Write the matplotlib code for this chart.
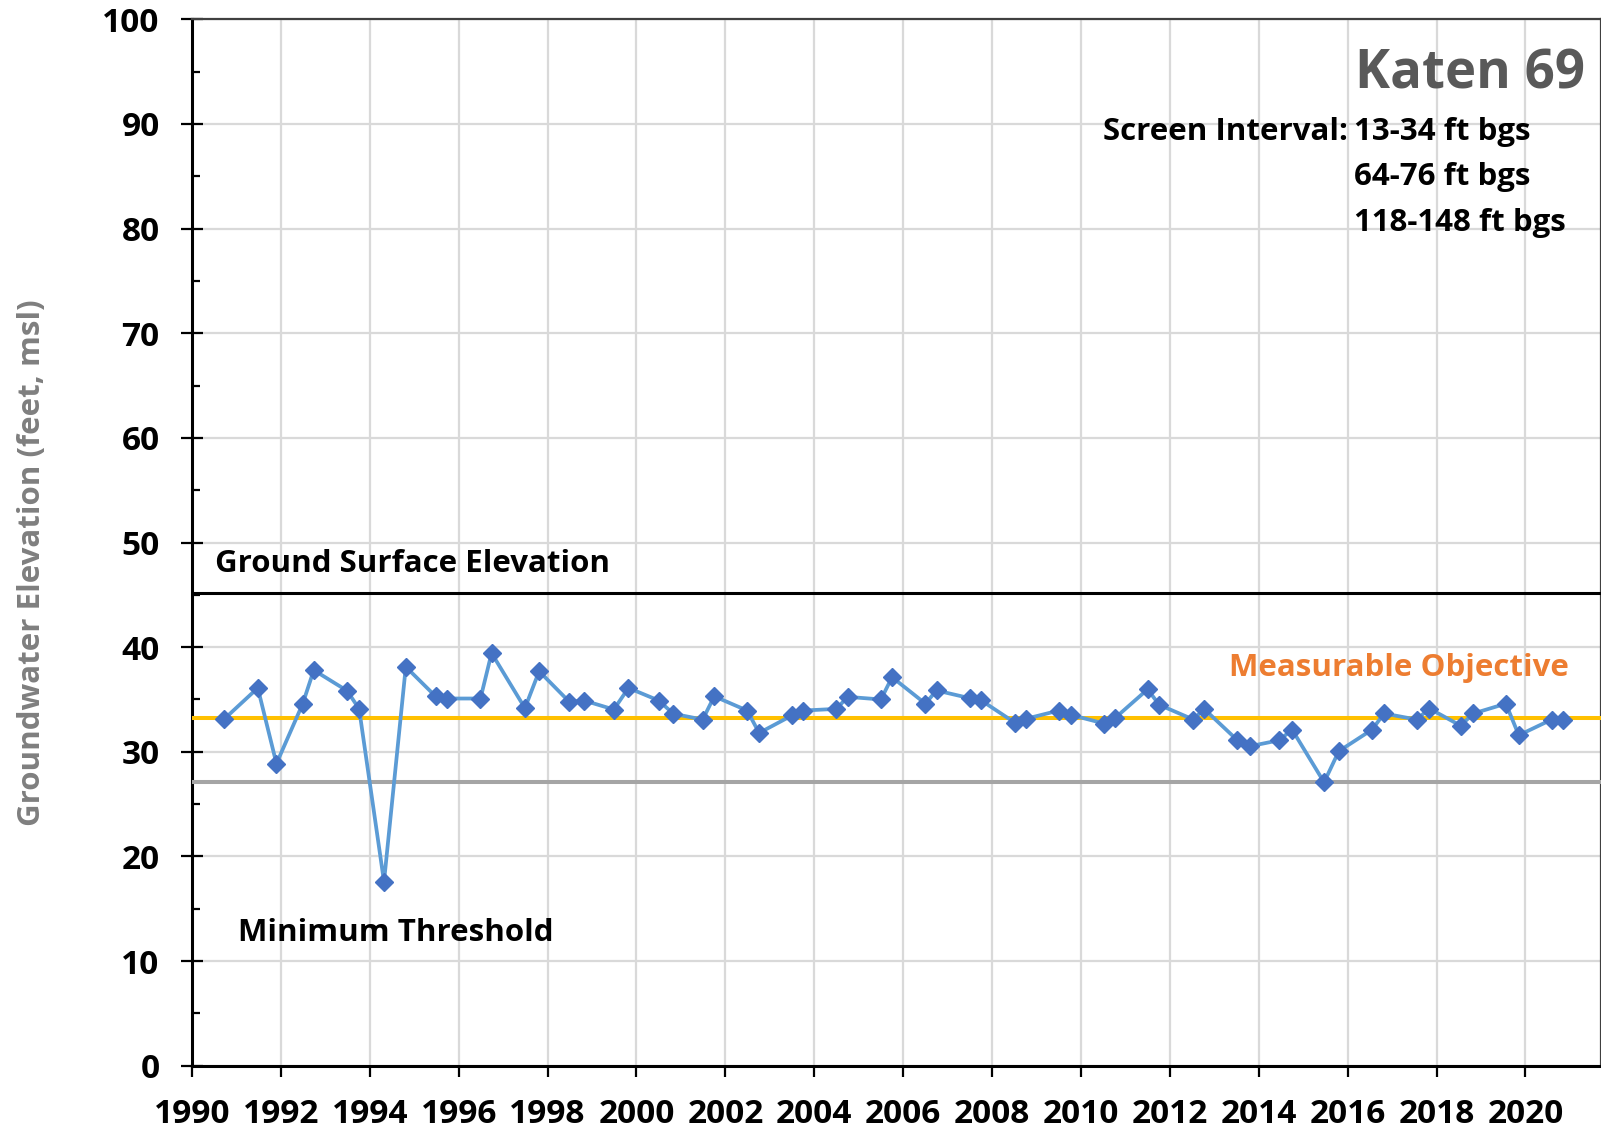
import matplotlib.pyplot as plt
import numpy as np

# measurement dates (decimal year) and groundwater elevations (ft msl)
years = [1990.73, 1991.48, 1991.90, 1992.49, 1992.74, 1993.49, 1993.76, 1994.32,
         1994.81, 1995.48, 1995.74, 1996.49, 1996.74, 1997.49, 1997.81, 1998.49,
         1998.82, 1999.49, 1999.82, 2000.50, 2000.83, 2001.49, 2001.75, 2002.49,
         2002.76, 2003.51, 2003.75, 2004.50, 2004.75, 2005.50, 2005.75, 2006.50,
         2006.75, 2007.50, 2007.75, 2008.52, 2008.76, 2009.50, 2009.77, 2010.52,
         2010.76, 2011.50, 2011.76, 2012.53, 2012.77, 2013.52, 2013.80, 2014.46,
         2014.75, 2015.47, 2015.80, 2016.55, 2016.82, 2017.55, 2017.84, 2018.54,
         2018.83, 2019.56, 2019.85, 2020.59, 2020.84]
elevation = [33.15, 36.1, 28.87, 34.58, 37.8, 35.83, 34.1, 17.58,
             38.12, 35.3, 35.09, 35.09, 39.43, 34.17, 37.7, 34.77,
             34.9, 34.04, 36.1, 34.9, 33.63, 33.08, 35.3, 33.94,
             31.8, 33.5, 33.94, 34.1, 35.25, 35.0, 37.13, 34.6,
             35.86, 35.12, 34.93, 32.76, 33.15, 33.94, 33.53, 32.7,
             33.2, 35.97, 34.49, 33.08, 34.1, 31.1, 30.53, 31.1,
             32.12, 27.08, 30.05, 32.12, 33.66, 33.08, 34.13, 32.5,
             33.66, 34.6, 31.58, 33.08, 33.08]

ground_surface = 45.2
measurable_objective = 33.25
minimum_threshold = 27.1

well_name = 'Katen 69'
screen_intervals = ['13-34 ft bgs', '64-76 ft bgs', '118-148 ft bgs']

plt.rcParams['font.family'] = ['Open Sans', 'DejaVu Sans']
plt.rcParams['font.weight'] = 'bold'

fig = plt.figure(figsize=(16.01, 11.34), dpi=100)
ax = fig.add_axes([192 / 1601, 1 - 1065.7 / 1134, 1 - 192 / 1601, (1065.7 - 19.3) / 1134])

ax.set_xlim(1990, 2021.7)
ax.set_ylim(0, 100)

# reference lines
ax.axhline(ground_surface, color='black', lw=2.2, zorder=3)
ax.axhline(measurable_objective, color='#FFC000', lw=2.9, zorder=3)
ax.axhline(minimum_threshold, color='#A5A5A5', lw=2.9, zorder=3)

# measured levels
ax.plot(years, elevation, color='#5B9BD5', lw=2.7, marker='D', ms=9.5,
        mfc='#4472C4', mec='#4472C4', zorder=4)

# grid and ticks
ax.set_xticks(np.arange(1990, 2021, 2))
ax.set_yticks(np.arange(0, 101, 10))
ax.set_yticks(np.arange(5, 100, 10), minor=True)
ax.grid(True, which='major', color='#D9D9D9', lw=1.6, zorder=0)
ax.tick_params(axis='y', which='major', direction='inout', length=16.5, width=1.6,
               labelsize=24, pad=15)
ax.tick_params(axis='y', which='minor', direction='in', length=6, width=1.6)
ax.tick_params(axis='x', which='major', direction='out', length=8, width=1.6,
               labelsize=24, pad=15)
for lab in ax.get_xticklabels() + ax.get_yticklabels():
    lab.set_fontweight('bold')

for side in ['left', 'bottom']:
    ax.spines[side].set_linewidth(2.2)
    ax.spines[side].set_color('black')
for side in ['top', 'right']:
    ax.spines[side].set_linewidth(1.6)
    ax.spines[side].set_color('#404040')

ax.set_ylabel('Groundwater Elevation (feet, msl)', fontsize=22.5, fontweight='bold',
              color='#7F7F7F')
ax.yaxis.set_label_coords(-0.103, 0.481)

# annotations
ax.text(1990.52, 47.15, 'Ground Surface Elevation', fontsize=22.5, fontweight='bold',
        va='baseline', ha='left')
ax.text(1991.03, 11.93, 'Minimum Threshold', fontsize=22.5, fontweight='bold',
        va='baseline', ha='left')
ax.text(2020.98, 37.2, 'Measurable Objective', fontsize=22.5, fontweight='bold',
        color='#ED7D31', va='baseline', ha='right')

ax.text(2021.34, 93.4, well_name, fontsize=38, fontweight='bold', color='#595959',
        va='baseline', ha='right')
ax.text(2016.0, 88.45, 'Screen Interval:', fontsize=22.5, fontweight='bold',
        va='baseline', ha='right')
for s, yb in zip(screen_intervals, [88.45, 84.2, 79.8]):
    ax.text(2016.14, yb, s, fontsize=22.5, fontweight='bold', va='baseline', ha='left')

fig.savefig('out.png', dpi=100)
